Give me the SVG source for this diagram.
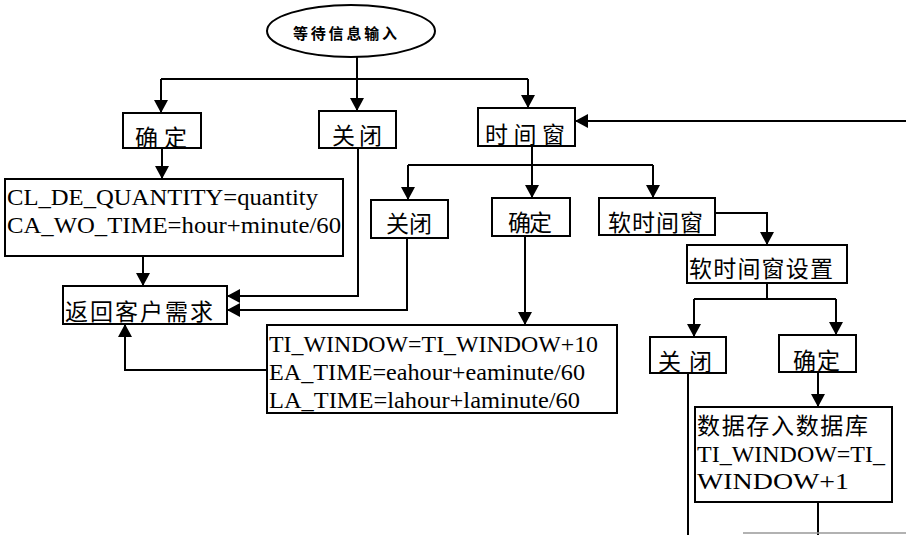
<svg xmlns="http://www.w3.org/2000/svg" width="906" height="535" viewBox="0 0 906 535">
<style>
  .box { fill: #fff; stroke: #000; stroke-width: 2; }
  .cn { font-family: "Noto Sans CJK SC", sans-serif; font-size: 23px; fill: #000; dominant-baseline: central; }
  .en { font-family: "Liberation Serif", "Times New Roman", serif; font-size: 24px; fill: #000; }
  .ln { fill: none; stroke: #000; stroke-width: 2; }
  .arr { marker-end: url(#ah); }
</style>
<defs>
  <marker id="ah" markerUnits="userSpaceOnUse" markerWidth="13" markerHeight="14" viewBox="0 0 13 14" refX="13" refY="7" orient="auto">
    <path d="M0,0 L13,7 L0,14 Z" fill="#000"/>
  </marker>
</defs>
<rect width="906" height="535" fill="#fff"/>

<g id="connectors">
  <path class="ln arr" d="M357,57 V111"/>
  <path class="ln" d="M161,79 H528"/>
  <path class="ln arr" d="M161,79 V113"/>
  <path class="ln arr" d="M528,79 V108"/>
  <path class="ln arr" d="M162,148 V179"/>
  <path class="ln arr" d="M143,256 V286"/>
  <path class="ln arr" d="M358,148 V296 H227"/>
  <path class="ln" d="M532,146 V165"/>
  <path class="ln" d="M408,165 H653"/>
  <path class="ln arr" d="M408,165 V200"/>
  <path class="ln arr" d="M532,165 V198"/>
  <path class="ln arr" d="M653,165 V198"/>
  <path class="ln arr" d="M407,238 V310 H227"/>
  <path class="ln arr" d="M525,236 V325"/>
  <path class="ln arr" d="M267,370 H125 V324"/>
  <path class="ln arr" d="M906,121 H575"/>
  <path class="ln arr" d="M715,213 H767 V245"/>
  <path class="ln" d="M767,283 V299"/>
  <path class="ln" d="M694,299 H836"/>
  <path class="ln arr" d="M694,299 V337"/>
  <path class="ln arr" d="M836,299 V335"/>
  <path class="ln" d="M688,373 V535"/>
  <path class="ln arr" d="M818,372 V407"/>
  <path class="ln" d="M818,502 V535"/>
  <path d="M743,533 H906" fill="none" stroke="#999" stroke-width="1.5"/>
</g>

<g id="start">
  <ellipse cx="351" cy="31" rx="84" ry="26" class="box"/>
  <text class="cn" x="293" y="32" textLength="104" lengthAdjust="spacing" style="font-size:15px;font-weight:bold">等待信息输入</text>
</g>

<g id="ok1">
  <rect class="box" x="123" y="113" width="78" height="35"/>
  <text class="cn" x="135" y="136" textLength="52" lengthAdjust="spacing">确定</text>
</g>
<g id="close1">
  <rect class="box" x="319" y="111" width="77" height="37"/>
  <text class="cn" x="332" y="134" textLength="50" lengthAdjust="spacing">关闭</text>
</g>
<g id="timewin">
  <rect class="box" x="478" y="108" width="97" height="38"/>
  <text class="cn" x="485" y="133" textLength="80" lengthAdjust="spacing">时间窗</text>
</g>
<g id="quantity">
  <rect class="box" x="5" y="179" width="338" height="77"/>
  <text class="en" x="7" y="205" textLength="311" lengthAdjust="spacingAndGlyphs">CL_DE_QUANTITY=quantity</text>
  <text class="en" x="7" y="233" textLength="334" lengthAdjust="spacingAndGlyphs">CA_WO_TIME=hour+minute/60</text>
</g>
<g id="return">
  <rect class="box" x="63" y="286" width="164" height="38"/>
  <text class="cn" x="65" y="310" textLength="148" lengthAdjust="spacing">返回客户需求</text>
</g>
<g id="close2">
  <rect class="box" x="371" y="200" width="77" height="38"/>
  <text class="cn" x="386" y="222" textLength="46" lengthAdjust="spacing">关闭</text>
</g>
<g id="ok2">
  <rect class="box" x="492" y="198" width="78" height="38"/>
  <text class="cn" x="508" y="221" textLength="44" lengthAdjust="spacing">确定</text>
</g>
<g id="softwin">
  <rect class="box" x="599" y="198" width="116" height="37"/>
  <text class="cn" x="608" y="221" textLength="95" lengthAdjust="spacing">软时间窗</text>
</g>
<g id="tiwindow">
  <rect class="box" x="267" y="325" width="350" height="88"/>
  <text class="en" x="269" y="352" textLength="329" lengthAdjust="spacingAndGlyphs">TI_WINDOW=TI_WINDOW+10</text>
  <text class="en" x="269" y="380" textLength="316" lengthAdjust="spacingAndGlyphs">EA_TIME=eahour+eaminute/60</text>
  <text class="en" x="269" y="408" textLength="311" lengthAdjust="spacingAndGlyphs">LA_TIME=lahour+laminute/60</text>
</g>
<g id="softset">
  <rect class="box" x="687" y="245" width="160" height="38"/>
  <text class="cn" x="689" y="267" textLength="144" lengthAdjust="spacing">软时间窗设置</text>
</g>
<g id="close3">
  <rect class="box" x="650" y="337" width="76" height="36"/>
  <text class="cn" x="658" y="360" textLength="54" lengthAdjust="spacing">关闭</text>
</g>
<g id="ok3">
  <rect class="box" x="779" y="335" width="77" height="37"/>
  <text class="cn" x="793" y="359" textLength="47" lengthAdjust="spacing">确定</text>
</g>
<g id="store">
  <rect class="box" x="695" y="407" width="197" height="95"/>
  <text class="cn" x="697" y="424" textLength="171" lengthAdjust="spacing">数据存入数据库</text>
  <text class="en" x="697" y="462" textLength="188" lengthAdjust="spacingAndGlyphs">TI_WINDOW=TI_</text>
  <text class="en" x="697" y="489" textLength="152" lengthAdjust="spacingAndGlyphs">WINDOW+1</text>
</g>
</svg>
